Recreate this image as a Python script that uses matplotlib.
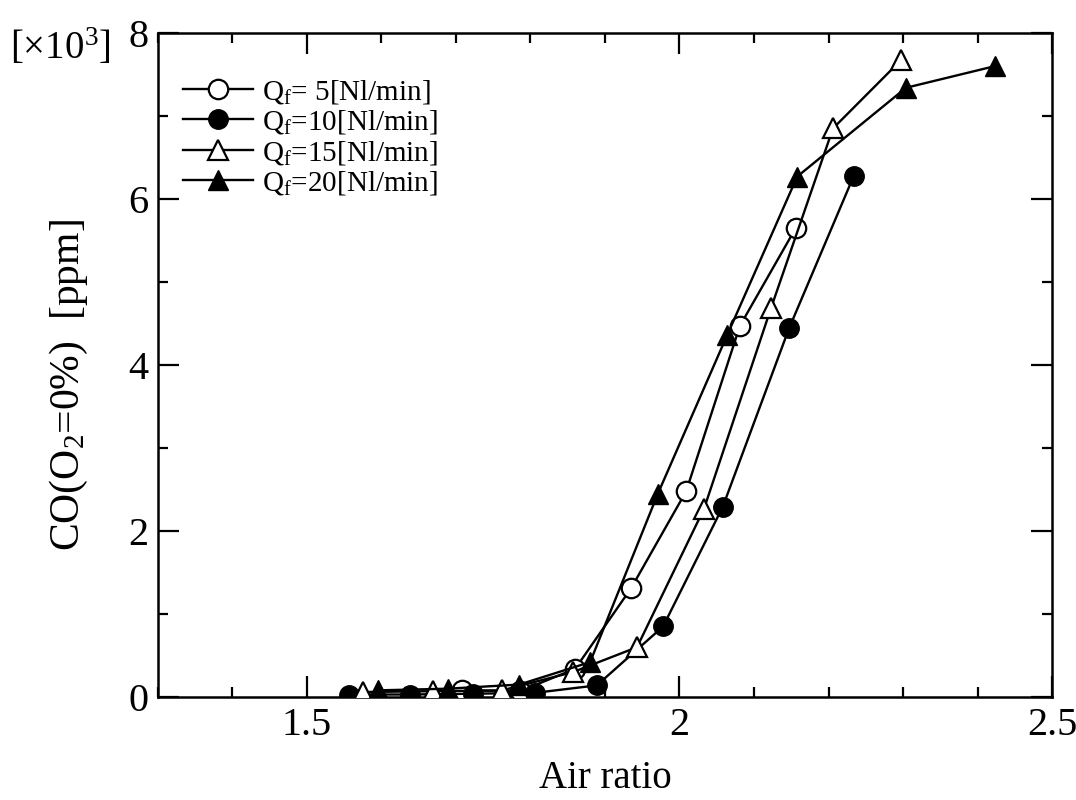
import matplotlib
matplotlib.use("Agg")
import matplotlib.pyplot as plt
from matplotlib.ticker import MultipleLocator

plt.rcParams['font.family'] = ['Liberation Serif', 'DejaVu Serif']
plt.rcParams['mathtext.fontset'] = 'custom'
plt.rcParams['mathtext.rm'] = 'Liberation Serif'
plt.rcParams['mathtext.it'] = 'Liberation Serif:italic'

# Data (air ratio, CO in 10^3 ppm)
x_q5 = [1.708, 1.786, 1.860, 1.935, 2.009, 2.081, 2.156]
y_q5 = [0.08, 0.07, 0.34, 1.31, 2.48, 4.47, 5.65]

x_q10 = [1.556, 1.638, 1.723, 1.806, 1.889, 1.978, 2.058, 2.147, 2.234]
y_q10 = [0.03, 0.03, 0.04, 0.05, 0.14, 0.85, 2.29, 4.44, 6.28]

x_q15 = [1.575, 1.669, 1.762, 1.857, 1.943, 2.033, 2.123, 2.206, 2.297]
y_q15 = [0.06, 0.07, 0.08, 0.30, 0.60, 2.27, 4.69, 6.85, 7.67]

x_q20 = [1.595, 1.689, 1.785, 1.880, 1.971, 2.064, 2.158, 2.304, 2.423]
y_q20 = [0.08, 0.10, 0.15, 0.42, 2.45, 4.36, 6.27, 7.34, 7.60]

labels = [r'Q$_\mathrm{f}$= 5[Nl/min]', r'Q$_\mathrm{f}$=10[Nl/min]',
          r'Q$_\mathrm{f}$=15[Nl/min]', r'Q$_\mathrm{f}$=20[Nl/min]']

fig = plt.figure(figsize=(10.76, 8.0), dpi=100)
ax = fig.add_axes([158/1076, 1-697/800, (1052-158)/1076, (697-33)/800])

lw = 1.7
ax.plot(x_q5, y_q5, '-o', color='black', mfc='white', mec='black', mew=1.6, ms=14, lw=lw, label=labels[0], zorder=3)
ax.plot(x_q10, y_q10, '-o', color='black', mfc='black', mec='black', ms=14, lw=lw, label=labels[1], zorder=3)
ax.plot(x_q15, y_q15, '-^', color='black', mfc='white', mec='black', mew=1.6, ms=15, lw=lw, label=labels[2], zorder=3)
ax.plot(x_q20, y_q20, '-^', color='black', mfc='black', mec='black', ms=15, lw=lw, label=labels[3], zorder=3)

ax.set_xlim(1.3, 2.5)
ax.set_ylim(0, 8)
ax.set_xticks([1.5, 2.0, 2.5])
ax.set_xticklabels(['1.5', '2', '2.5'])
ax.xaxis.set_minor_locator(MultipleLocator(0.1))
ax.set_yticks([0, 2, 4, 6, 8])
ax.yaxis.set_minor_locator(MultipleLocator(1))

ax.tick_params(which='both', direction='in', top=True, right=True, width=1.6, labelsize=29, pad=7)
ax.tick_params(which='major', length=15)
ax.tick_params(which='minor', length=7)
for s in ax.spines.values():
    s.set_linewidth(1.8)

ax.set_xlabel('Air ratio', fontsize=28, labelpad=12)
ax.set_ylabel(r'CO(O$_2$=0%)  [ppm]', fontsize=30)
ax.yaxis.set_label_coords(-0.076, 0.47)
fig.text(10/1076, 1-48/800, r'[$\times$10$^3$]', fontsize=28, ha='left', va='center')

leg = ax.legend(loc='upper left', bbox_to_anchor=(0.015, 0.95), frameon=False,
                fontsize=21, handlelength=2.4, handletextpad=0.3, labelspacing=0.08,
                borderaxespad=0.0)

fig.savefig('out.png', dpi=100)
